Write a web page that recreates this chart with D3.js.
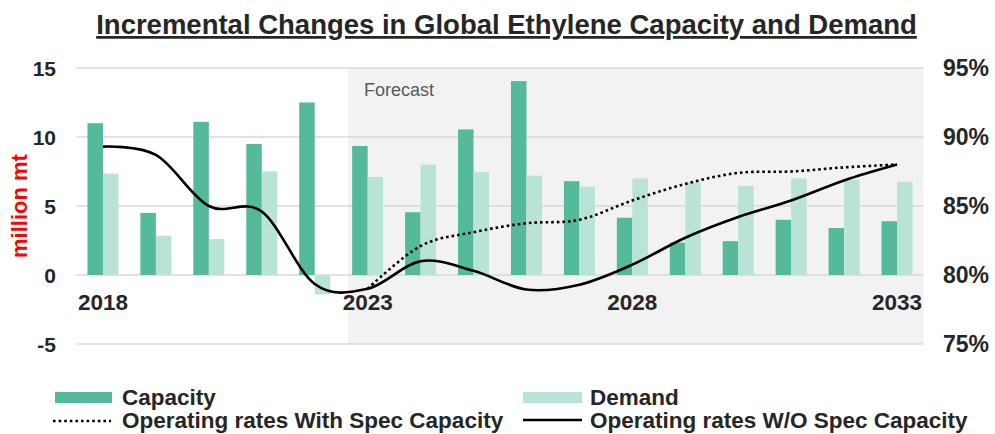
<!DOCTYPE html>
<html>
<head>
<meta charset="utf-8">
<script src="https://cdn.jsdelivr.net/npm/d3@7/dist/d3.min.js"></script>
<style>
  html, body { margin: 0; padding: 0; background: #ffffff; }
  svg { display: block; font-family: "Liberation Sans", Arial, sans-serif; }
</style>
</head>
<body>
<svg id="chart" width="995" height="434"></svg>
<script>
// Years on the category axis
const years = ["2018","2019","2020","2021","2022","2023","2024","2025","2026","2027","2028","2029","2030","2031","2032","2033"];
// Incremental ethylene capacity additions, million mt
const capacity = [11.0, 4.5, 11.1, 9.5, 12.5, 9.35, 4.55, 10.55, 14.05, 6.8, 4.15, 2.35, 2.45, 4.0, 3.4, 3.9];
// Incremental ethylene demand, million mt
const demand = [7.35, 2.85, 2.6, 7.5, -1.4, 7.1, 8.0, 7.45, 7.2, 6.4, 7.0, 6.7, 6.45, 7.0, 6.9, 6.75];
// Operating rates without speculative capacity, %
const rateNoSpec = [89.3, 88.7, 85.0, 84.6, 79.35, 79.0, 81.0, 80.3, 78.95, 79.3, 80.75, 82.7, 84.2, 85.4, 86.85, 88.0];
// Operating rates with speculative capacity, % (forecast years only)
const rateSpecYears = ["2023","2024","2025","2026","2027","2028","2029","2030","2031","2032","2033"];
const rateWithSpec = [79.0, 82.1, 83.1, 83.75, 84.0, 85.4, 86.6, 87.4, 87.5, 87.8, 88.0];
// Axis tick values and labels
const leftTicks = [-5, 0, 5, 10, 15];
const rightTicks = [75, 80, 85, 90, 95];
const yearLabels = ["2018","2023","2028","2033"];
const forecastStart = "2023";

const svg = d3.select("#chart");
const plot = { left: 76.5, right: 923.5, top: 68, bottom: 344 };

const x = d3.scaleBand().domain(years).range([plot.left, plot.right]).padding(0);
const xSub = d3.scaleBand().domain(["capacity","demand"]).range([0, x.bandwidth()]).paddingInner(0).paddingOuter(0.708);
const y = d3.scaleLinear().domain([-5, 15]).range([plot.bottom, plot.top]);
const yR = d3.scaleLinear().domain([75, 95]).range([plot.bottom, plot.top]);

const capColor = "#55b99b";
const demColor = "#b8e3d6";

// Forecast shading
const shadeX = x(forecastStart) + x.bandwidth() * 0.13;
svg.append("rect")
  .attr("x", shadeX)
  .attr("y", plot.top)
  .attr("width", plot.right - shadeX)
  .attr("height", plot.bottom - plot.top)
  .attr("fill", "#f2f2f2");

// Horizontal gridlines
svg.append("g").selectAll("line").data(leftTicks).join("line")
  .attr("x1", plot.left).attr("x2", plot.right)
  .attr("y1", d => y(d)).attr("y2", d => y(d))
  .attr("stroke", "#d9d9d9").attr("stroke-width", 1.5);

// Forecast label
svg.append("text")
  .attr("x", 364).attr("y", 96)
  .attr("font-size", 18).attr("fill", "#595959")
  .text("Forecast");

// Bars
const rows = years.map((yr, i) => ({ yr, capacity: capacity[i], demand: demand[i] }));
const groups = svg.append("g").selectAll("g").data(rows).join("g")
  .attr("transform", d => `translate(${x(d.yr)},0)`);
groups.append("rect")
  .attr("x", xSub("capacity")).attr("width", xSub.bandwidth())
  .attr("y", d => y(Math.max(0, d.capacity)))
  .attr("height", d => Math.abs(y(d.capacity) - y(0)))
  .attr("fill", capColor);
groups.append("rect")
  .attr("x", xSub("demand")).attr("width", xSub.bandwidth())
  .attr("y", d => y(Math.max(0, d.demand)))
  .attr("height", d => Math.abs(y(d.demand) - y(0)))
  .attr("fill", demColor);

// Operating rate lines
const cx = yr => x(yr) + x.bandwidth() / 2;
const line = d3.line().curve(d3.curveCardinal.tension(0));

svg.append("path")
  .attr("d", line(rateWithSpec.map((v, i) => [cx(rateSpecYears[i]), yR(v)])))
  .attr("fill", "none").attr("stroke", "#000")
  .attr("stroke-width", 2.6).attr("stroke-dasharray", "2.6,3");

svg.append("path")
  .attr("d", line(rateNoSpec.map((v, i) => [cx(years[i]), yR(v)])))
  .attr("fill", "none").attr("stroke", "#000").attr("stroke-width", 2.6);

// Left axis labels
svg.append("g").selectAll("text").data(leftTicks).join("text")
  .attr("x", 56).attr("y", d => y(d)).attr("dy", "0.36em")
  .attr("text-anchor", "end").attr("font-size", 21).attr("font-weight", "bold")
  .attr("fill", "#262626").text(d => d);

// Right axis labels
svg.append("g").selectAll("text").data(rightTicks).join("text")
  .attr("x", 943).attr("y", d => yR(d)).attr("dy", "0.36em")
  .attr("text-anchor", "start").attr("font-size", 23).attr("font-weight", "bold")
  .attr("fill", "#262626").text(d => d + "%");

// Year labels
svg.append("g").selectAll("text").data(yearLabels).join("text")
  .attr("x", d => cx(d)).attr("y", 310)
  .attr("text-anchor", "middle").attr("font-size", 22.5).attr("font-weight", "bold")
  .attr("fill", "#262626").text(d => d);

// Left axis title
svg.append("text")
  .attr("transform", "translate(27,206) rotate(-90)")
  .attr("text-anchor", "middle").attr("font-size", 22).attr("font-weight", "bold")
  .attr("fill", "#ff0000").text("million mt");

// Chart title
svg.append("text")
  .attr("x", 506.5).attr("y", 34)
  .attr("text-anchor", "middle").attr("font-size", 27.5).attr("font-weight", "bold")
  .attr("fill", "#262626").attr("text-decoration", "underline")
  .text("Incremental Changes in Global Ethylene Capacity and Demand");

// Legend
const legend = svg.append("g").attr("font-size", 22.5).attr("font-weight", "bold").attr("fill", "#262626");
legend.append("rect").attr("x", 55).attr("y", 392).attr("width", 57).attr("height", 11).attr("fill", capColor);
legend.append("text").attr("x", 122).attr("y", 405).text("Capacity");
legend.append("rect").attr("x", 523).attr("y", 392).attr("width", 59).attr("height", 11).attr("fill", demColor);
legend.append("text").attr("x", 590).attr("y", 405).text("Demand");
legend.append("line").attr("x1", 53).attr("x2", 111).attr("y1", 421).attr("y2", 421)
  .attr("stroke", "#000").attr("stroke-width", 2.6).attr("stroke-dasharray", "2.6,3");
legend.append("text").attr("x", 122).attr("y", 428).text("Operating rates With Spec Capacity");
legend.append("line").attr("x1", 523).attr("x2", 582).attr("y1", 420).attr("y2", 420)
  .attr("stroke", "#000").attr("stroke-width", 2.6);
legend.append("text").attr("x", 590).attr("y", 428).text("Operating rates W/O Spec Capacity");
</script>
</body>
</html>
